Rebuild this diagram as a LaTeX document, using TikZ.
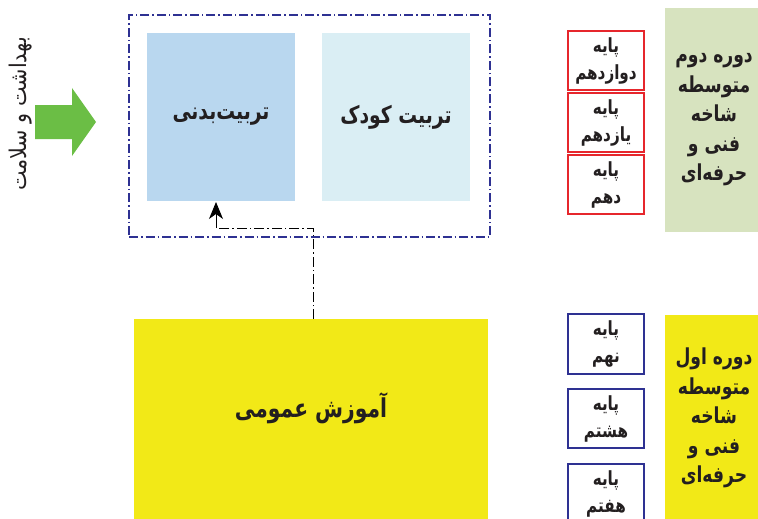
\documentclass[tikz,border=0pt]{standalone}
\usepackage{graphicx}
\usepackage{fontspec}
\TeXXeTstate=1
\newfontfamily\arabicfont[Script=Arabic]{DejaVu Sans}
\usetikzlibrary{arrows.meta,calc}
\definecolor{peblue}{HTML}{B9D7EF}
\definecolor{kdcyan}{HTML}{DAEEF4}
\definecolor{navy}{HTML}{2E3192}
\definecolor{genyellow}{HTML}{F2E917}
\definecolor{panelgreen}{HTML}{D7E3BF}
\definecolor{boxred}{HTML}{E6262C}
\definecolor{arrowgreen}{HTML}{6BBE45}
\definecolor{txt}{HTML}{231F20}
\newcommand{\artxt}[1]{\scalebox{0.78}[1]{\arabicfont\bfseries\beginR #1\endR}}
\newcommand{\artxtr}[1]{\scalebox{0.9}[1]{\arabicfont\beginR #1\endR}}
\tikzset{
  blk/.style={inner sep=0pt, outer sep=0pt, text=txt, align=center},
  bigbox/.style={blk, minimum width=148pt, minimum height=168pt, font=\fontsize{24}{28}\selectfont},
  framebox/.style={blk, draw=navy, line width=1.2pt, dash pattern=on 9pt off 3pt on 1.5pt off 3pt, minimum width=361pt, minimum height=222pt},
  gradebox/.style={blk, fill=white, line width=1.3pt, minimum width=76pt, minimum height=59pt, font=\fontsize{19.5}{27}\selectfont},
  redbox/.style={gradebox, draw=boxred},
  bluebox/.style={gradebox, draw=navy},
  panel/.style={blk, minimum width=100pt},
  paneltext/.style={blk, font=\fontsize{22}{29.5}\selectfont},
  conn/.style={black, line width=1pt, dash pattern=on 10pt off 3pt on 1.5pt off 3pt}
}
\begin{document}
\begin{tikzpicture}[x=1pt,y=-1pt]
\useasboundingbox (0,0) rectangle (758,519);
\clip (0,0) rectangle (758,519);
% top frame and boxes
\node[framebox] (fr) at (309.5,126) {};
\node[bigbox, fill=peblue] (pe) at (221,117) {\artxt{تربیت‌بدنی}};
\node[bigbox, fill=kdcyan] (kd) at (396,117) {\artxt{تربیت کودک}};
% general education box
\node[blk, fill=genyellow, minimum width=354pt, minimum height=240pt] (gen) at (311,439) {};
\node[blk, font=\fontsize{26}{30}\selectfont] (gentxt) at (311,408) {\artxt{آموزش عمومی}};
% connector
\coordinate (c1) at ($(gen.north west)+(179pt,0)$);
\coordinate (c2) at ($(pe.south west)+(69pt,-27pt)$);
\draw[conn] (c1) |- (c2);
\draw[line width=1pt, -{Stealth[length=17pt,width=14pt,inset=5pt]}] (c2) -- ($(c2 |- pe.south)+(0,-1pt)$);
% green arrow and vertical label
\fill[arrowgreen] (35,105) -- (72,105) -- (72,88) -- (96,122) -- (72,156) -- (72,139) -- (35,139) -- cycle;
\node[blk, rotate=90, font=\fontsize{23}{26}\selectfont] (hs) at (21,114) {\artxtr{بهداشت و سلامت}};
% right column: second period
\node[redbox] (g12) at (606,60.5) {\artxt{پایه}\\\artxt{دوازدهم}};
\node[redbox] (g11) at (606,122.5) {\artxt{پایه}\\\artxt{یازدهم}};
\node[redbox] (g10) at (606,184.5) {\artxt{پایه}\\\artxt{دهم}};
\node[panel, fill=panelgreen, minimum height=224pt] (p2) at (715,120) {};
\node[paneltext] (p2t) at (714,120) {\artxt{دوره دوم}\\\artxt{متوسطه}\\\artxt{شاخه}\\\artxt{فنی و}\\\artxt{حرفه‌ای}};
% right column: first period
\node[bluebox, minimum height=60pt] (g9) at (606,344) {\artxt{پایه}\\\artxt{نهم}};
\node[bluebox] (g8) at (606,418.5) {\artxt{پایه}\\\artxt{هشتم}};
\node[bluebox, minimum height=60pt] (g7) at (606,494) {\artxt{پایه}\\\artxt{هفتم}};
\node[panel, fill=genyellow, minimum height=220pt] (p1) at (715,425) {};
\node[paneltext] (p1t) at (714,418) {\artxt{دوره اول}\\\artxt{متوسطه}\\\artxt{شاخه}\\\artxt{فنی و}\\\artxt{حرفه‌ای}};
\end{tikzpicture}
\end{document}
